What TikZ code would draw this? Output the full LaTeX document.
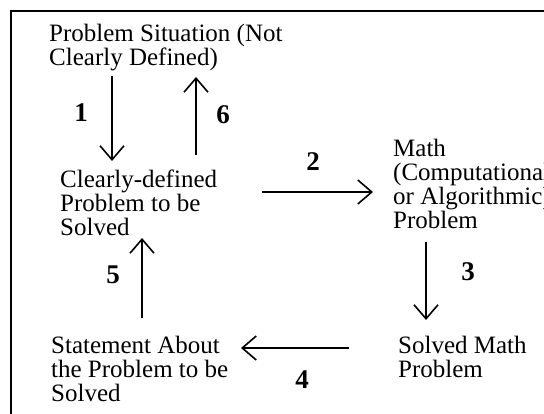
\documentclass[tikz,border=0pt]{standalone}
\usepackage{fontspec}
\setmainfont{Liberation Serif}
\usetikzlibrary{arrows.meta}
\tikzset{
  box/.style={anchor=north west, inner sep=0pt, align=left, font=\fontsize{25}{24}\selectfont},
  num/.style={inner sep=0pt, font=\fontsize{27}{27}\selectfont\bfseries},
  flow/.style={line width=1.6pt, -{Straight Barb[length=14pt,width=24pt,line width=1.6pt]}},
  frame/.style={line width=2pt}
}
\begin{document}
\begin{tikzpicture}[x=1pt,y=-1pt]
\useasboundingbox (0,0) rectangle (544,414);
\draw[frame] (11,414) -- (11,11) -- (544,11);

\node[box] (A) at (49,24) {Problem Situation (Not\\Clearly Defined)};
\node[box] (B) at (60,170) {Clearly-defined\\Problem to be\\Solved};
\node[box] (C) at (393,139) {Math\\(Computational\\or Algorithmic)\\Problem};
\node[box] (D) at (398,336) {Solved Math\\Problem};
\node[box] (E) at (51,336) {Statement About\\the Problem to be\\Solved};

\coordinate (a1s) at (112,76);  \coordinate (a1e) at (112,161);
\coordinate (a6s) at (196,155); \coordinate (a6e) at (196,77);
\coordinate (a2s) at (262,192); \coordinate (a2e) at (373,192);
\coordinate (a3s) at (426,242); \coordinate (a3e) at (426,320);
\coordinate (a4s) at (349,348); \coordinate (a4e) at (241,348);
\coordinate (a5s) at (142,318); \coordinate (a5e) at (142,238);

\draw[flow] (a1s) -- (a1e);
\draw[flow] (a6s) -- (a6e);
\draw[flow] (a2s) -- (a2e);
\draw[flow] (a3s) -- (a3e);
\draw[flow] (a4s) -- (a4e);
\draw[flow] (a5s) -- (a5e);

\node[num] (n1) at (81,113) {1};
\node[num] (n6) at (223,115) {6};
\node[num] (n2) at (313,162) {2};
\node[num] (n3) at (468,272) {3};
\node[num] (n4) at (302,380) {4};
\node[num] (n5) at (113,275) {5};
\end{tikzpicture}
\end{document}
